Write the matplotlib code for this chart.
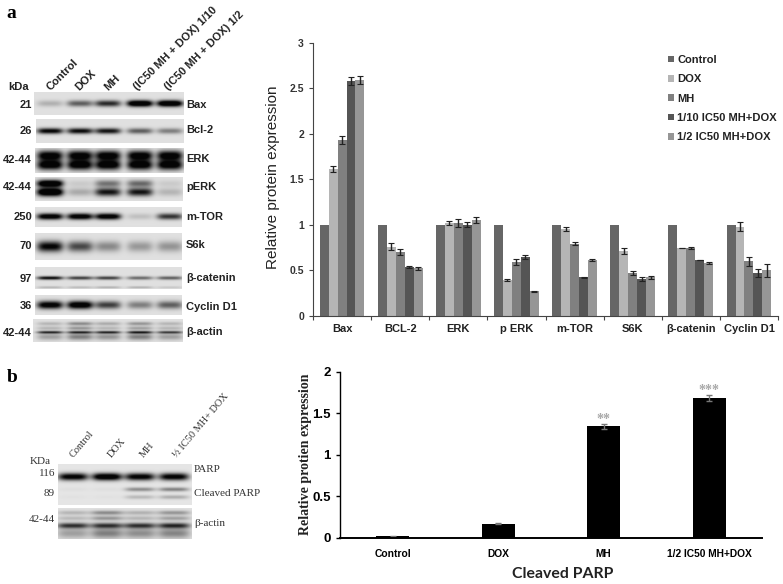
"""Western blot panels and densitometry bars: two-row figure (a, b)."""
import numpy as np
import matplotlib
matplotlib.use("Agg")
import matplotlib.pyplot as plt

W, H = 783, 584
SANS = "Liberation Sans"
SERIF = "Liberation Serif"

# ---------------------------------------------------------------------------
# Data.
# ---------------------------------------------------------------------------
PROTEINS = ["Bax", "BCL-2", "ERK", "p ERK", "m-TOR", "S6K", "β-catenin", "Cyclin D1"]
GROUPS = ["Control", "DOX", "MH", "1/10 IC50 MH+DOX", "1/2 IC50 MH+DOX"]
GROUP_COLORS = ["#666666", "#b5b5b5", "#808080", "#555555", "#969696"]

CONTROL = [1, 1, 1, 1, 1, 1, 1, 1]
DOX = [1.61, 0.76, 1.02, 0.39, 0.95, 0.71, 0.745, 0.98]
MH = [1.93, 0.70, 1.02, 0.59, 0.79, 0.47, 0.745, 0.60]
TENTH = [2.58, 0.535, 1.00, 0.645, 0.42, 0.40, 0.61, 0.47]
HALF = [2.59, 0.52, 1.05, 0.27, 0.61, 0.42, 0.58, 0.50]
SERIES = [CONTROL, DOX, MH, TENTH, HALF]

DOX_ERR = [0.03, 0.04, 0.025, 0.01, 0.02, 0.03, 0.002, 0.05]
MH_ERR = [0.04, 0.03, 0.04, 0.03, 0.015, 0.02, 0.015, 0.05]
TENTH_ERR = [0.04, 0.015, 0.03, 0.025, 0.003, 0.02, 0.003, 0.04]
HALF_ERR = [0.04, 0.015, 0.035, 0.005, 0.01, 0.015, 0.015, 0.07]
ERRORS = [None, DOX_ERR, MH_ERR, TENTH_ERR, HALF_ERR]

PARP_GROUPS = ["Control", "DOX", "MH", "1/2 IC50 MH+DOX"]
PARP_VALUES = [0.016, 0.17, 1.34, 1.687]
PARP_ERR = [0.005, 0.01, 0.03, 0.035]
PARP_STARS = ["", "", "**", "***"]

# Blot bands: (centre as fraction of height, thickness as fraction, darkness per lane)
BAX_BANDS = [(0.50, 0.14, [0.22, 0.60, 0.85, 1.40, 1.40])]
BCL2_BANDS = [(0.50, 0.12, [1.05, 1.00, 0.95, 0.60, 0.45])]
ERK_BANDS = [(0.30, 0.20, [1.15, 1.15, 1.15, 1.15, 1.15]),
             (0.68, 0.20, [1.20, 1.20, 1.20, 1.20, 1.20])]
PERK_BANDS = [(0.27, 0.15, [1.40, 0.10, 0.50, 0.55, 0.10]),
              (0.63, 0.17, [1.50, 0.25, 0.95, 0.95, 0.20])]
MTOR_BANDS = [(0.50, 0.15, [1.20, 1.20, 1.20, 0.15, 0.80])]
S6K_BANDS = [(0.50, 0.20, [1.05, 0.70, 0.40, 0.33, 0.35])]
CATENIN_BANDS = [(0.50, 0.08, [1.00, 0.75, 0.75, 0.55, 0.60]),
                 (0.93, 0.05, [0.20, 0.18, 0.22, 0.22, 0.12])]
CYCLIN_BANDS = [(0.50, 0.20, [1.15, 1.25, 0.75, 0.45, 0.60])]
ACTIN_BANDS = [(0.58, 0.06, [0.85, 0.85, 0.85, 0.90, 0.75]),
               (0.20, 0.08, [0.20, 0.40, 0.25, 0.35, 0.20]),
               (0.40, 0.08, [0.20, 0.35, 0.20, 0.30, 0.20]),
               (0.78, 0.14, [0.30, 0.45, 0.35, 0.45, 0.30])]
PARP_BANDS = [(0.31, 0.09, [1.10, 1.25, 1.10, 1.10]),
              (0.62, 0.05, [0.03, 0.03, 0.40, 0.45]),
              (0.81, 0.05, [0.02, 0.02, 0.20, 0.25])]
PARP_ACTIN_BANDS = [(0.57, 0.09, [0.80, 0.80, 0.80, 0.85]),
                    (0.15, 0.07, [0.20, 0.40, 0.22, 0.35]),
                    (0.33, 0.07, [0.18, 0.35, 0.20, 0.30]),
                    (0.82, 0.16, [0.30, 0.45, 0.38, 0.42])]

LANES_A = [50, 80, 108, 140, 170]
LANES_B = [73, 107, 140, 174]


# ---------------------------------------------------------------------------
# Helpers, all positions in reference pixels.
# ---------------------------------------------------------------------------
fig = plt.figure(figsize=(W / 100, H / 100), dpi=100, facecolor="white")


def axes_px(x0, y0, x1, y1):
    return fig.add_axes([x0 / W, 1 - y1 / H, (x1 - x0) / W, (y1 - y0) / H])


def label(x, y, s, **kw):
    kw.setdefault("va", "center")
    kw.setdefault("family", SANS)
    return fig.text(x / W, 1 - y / H, s, **kw)


def draw_blot(box, lanes, bands, half_width=13, bg=0.86):
    x0, y0, x1, y1 = box
    xs = np.linspace(x0, x1, int(x1 - x0) * 3)
    ys = np.linspace(0, 1, int(y1 - y0) * 3)
    dark = np.zeros((len(ys), len(xs)))
    for yc, thick, levels in bands:
        row = np.exp(-((ys - yc) / thick) ** 2)
        col = np.zeros_like(xs)
        for c, d in zip(lanes, levels):
            col += d * np.exp(-((xs - c) / half_width) ** 4)
        dark += np.outer(row, col)
    ax = axes_px(*box)
    ax.imshow(bg * (1 - np.clip(dark, 0, 1)) + 0.02, cmap="gray", vmin=0, vmax=1,
              aspect="auto", interpolation="bilinear")
    ax.axis("off")


# ---------------------------------------------------------------------------
# Panel a, blots.
# ---------------------------------------------------------------------------
label(6, 13, "a", family=SERIF, fontweight="bold", fontsize=14)

BLOTS_A = [
    ((34, 92, 184, 115), BAX_BANDS, "21", "Bax", 105, 105),
    ((36, 119, 184, 143), BCL2_BANDS, "26", "Bcl-2", 131, 130),
    ((35, 148, 184, 173), ERK_BANDS, "42-44", "ERK", 160, 159),
    ((35, 177, 183, 201), PERK_BANDS, "42-44", "pERK", 187, 187),
    ((35, 207, 182, 227), MTOR_BANDS, "250", "m-TOR", 217, 217),
    ((35, 233, 182, 260), S6K_BANDS, "70", "S6k", 246, 245),
    ((35, 267, 182, 289), CATENIN_BANDS, "97", "β-catenin", 279, 278),
    ((35, 295, 182, 315), CYCLIN_BANDS, "36", "Cyclin D1", 306, 307),
    ((33, 319, 183, 342), ACTIN_BANDS, "42-44", "β-actin", 333, 332),
]
for box, bands, kda, name, y_kda, y_name in BLOTS_A:
    draw_blot(box, LANES_A, bands)
    label(32, y_kda, kda, ha="right", fontweight="bold", fontsize=8, color="#222222")
    label(186, y_name, name, ha="left", fontweight="bold", fontsize=8, color="#222222")

label(8, 87, "kDa", fontweight="bold", fontsize=8, color="#222222")
COLUMNS_A = ["Control", "DOX", "MH", "(IC50 MH + DOX) 1/10", "(IC50 MH + DOX) 1/2"]
for x, s in zip([52, 81, 110, 139, 170], COLUMNS_A):
    label(x, 92, s, rotation=45, rotation_mode="anchor", ha="left", va="bottom",
          fontweight="bold", fontsize=8, color="#222222")

# ---------------------------------------------------------------------------
# Panel a, bars.
# ---------------------------------------------------------------------------
ax = axes_px(313, 42.7, 778, 315.7)
bar_w = 0.154
centers = np.arange(len(PROTEINS)) + 0.5
for j, (vals, errs) in enumerate(zip(SERIES, ERRORS)):
    ax.bar(centers + (j - 2) * bar_w, vals, bar_w, color=GROUP_COLORS[j], label=GROUPS[j],
           yerr=errs, ecolor="#222222", error_kw={"elinewidth": 1, "capsize": 2, "capthick": 0.8})
ax.set_xlim(0, 8)
ax.set_ylim(0, 3)
ax.set_yticks([0, 0.5, 1, 1.5, 2, 2.5, 3], ["0", "0.5", "1", "1.5", "2", "2.5", "3"])
ax.set_xticks(np.arange(9), [""] * 9)
ax.set_xticks(centers, PROTEINS, minor=True)
ax.tick_params(axis="x", which="minor", length=0, pad=6)
ax.tick_params(axis="both", which="major", length=3, width=0.8, color="#444444")
for t in ax.get_xticklabels(minor=True):
    t.set(family=SANS, fontweight="bold", fontsize=8, color="#222222")
for t in ax.get_yticklabels():
    t.set(family=SANS, fontweight="bold", fontsize=7.5, color="#333333")
for side in ["top", "right"]:
    ax.spines[side].set_visible(False)
for side in ["left", "bottom"]:
    ax.spines[side].set_color("#444444")
label(273, 177, "Relative protein expression", rotation=90, ha="center", fontsize=11,
      color="#222222")
leg = ax.legend(loc="upper left", bbox_to_anchor=(658 / W, 1 - 45 / H),
                bbox_transform=fig.transFigure, frameon=False, handlelength=0.55,
                handleheight=0.55, handletextpad=0.3, labelspacing=0.84,
                prop={"family": SANS, "weight": "bold", "size": 8})
for t in leg.get_texts():
    t.set_color("#222222")

# ---------------------------------------------------------------------------
# Panel b, blots.
# ---------------------------------------------------------------------------
label(7, 377, "b", family=SERIF, fontweight="bold", fontsize=14)
draw_blot((58, 464, 192, 505), LANES_B, PARP_BANDS, half_width=15, bg=0.88)
draw_blot((58, 508, 192, 539), LANES_B, PARP_ACTIN_BANDS, half_width=16, bg=0.86)
label(30, 461, "KDa", family=SERIF, fontsize=8, color="#333333")
for y, s in [(474, "116"), (493, "89"), (520, "42-44")]:
    label(55, y, s, ha="right", family=SERIF, fontsize=8, color="#333333")
for y, s in [(469, "PARP"), (494, "Cleaved PARP"), (524, "β-actin")]:
    label(194, y, s, family=SERIF, fontsize=8, color="#333333")
COLUMNS_B = ["Control", "DOX", "MH", "½ IC50 MH+ DOX"]
for x, s in zip([75, 113, 145, 179], COLUMNS_B):
    label(x, 459, s, rotation=50, rotation_mode="anchor", ha="left", va="bottom",
          family=SERIF, fontsize=7.5, color="#333333")

# ---------------------------------------------------------------------------
# Panel b, bars.
# ---------------------------------------------------------------------------
ax2 = axes_px(340, 371.7, 762, 537.7)
pos = np.arange(len(PARP_GROUPS)) + 0.5
ax2.bar(pos, PARP_VALUES, 0.315, color="black", yerr=PARP_ERR, ecolor="#777777",
        error_kw={"elinewidth": 1, "capsize": 2.5, "capthick": 1})
for p, v, e, s in zip(pos, PARP_VALUES, PARP_ERR, PARP_STARS):
    if s:
        ax2.text(p, v + e - 0.03, s, ha="center", va="bottom", fontsize=10, color="#a8a8a8",
                 family=SERIF, fontweight="bold")
ax2.set_xlim(0, 4)
ax2.set_ylim(0, 2)
ax2.set_yticks([0, 0.5, 1, 1.5, 2], ["0", "0.5", "1", "1.5", "2"])
ax2.set_xticks(pos, PARP_GROUPS)
ax2.tick_params(axis="x", length=0, pad=8)
ax2.tick_params(axis="y", length=3, width=1)
for t in ax2.get_xticklabels():
    t.set(family=SANS, fontweight="bold", fontsize=7.4)
for t in ax2.get_yticklabels():
    t.set(family=SANS, fontweight="bold", fontsize=9.5)
for side in ["top", "right"]:
    ax2.spines[side].set_visible(False)
ax2.spines["left"].set_linewidth(1)
ax2.spines["bottom"].set_linewidth(1.4)
label(306, 454, "Relative protien expression", rotation=90, ha="center", family=SERIF,
      fontweight="bold", fontsize=10, color="#222222")
label(563, 574, "Cleaved PARP", ha="center", family="Lato", fontweight="bold", fontsize=11.4,
      color="#222222")

fig.savefig("out.png", dpi=100, facecolor="white")
